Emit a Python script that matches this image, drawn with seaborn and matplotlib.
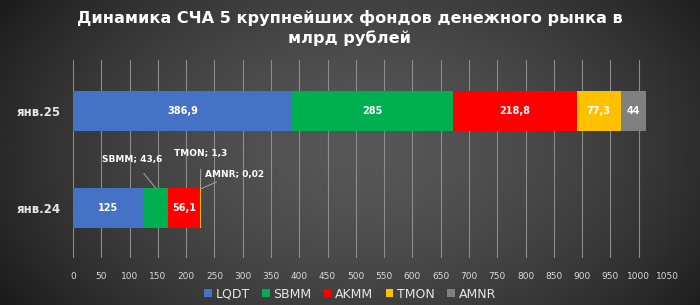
import numpy as np
import pandas as pd
import matplotlib
matplotlib.use("Agg")
import matplotlib.pyplot as plt
import seaborn as sns
from matplotlib.patches import Patch

# ---- data ----
periods = ["янв.25", "янв.24"]
funds = ["LQDT", "SBMM", "AKMM", "TMON", "AMNR"]
lqdt = [386.9, 125.0]
sbmm = [285.0, 43.6]
akmm = [218.8, 56.1]
tmon = [77.3, 1.3]
amnr = [44.0, 0.02]
value_labels = [["386,9", "285", "218,8", "77,3", "44"],
                ["125", None, "56,1", None, None]]
callouts = ["SBMM; 43,6", "TMON; 1,3", "AMNR; 0,02"]
x_ticks = list(range(0, 1051, 50))

colors = ["#4472C4", "#00B050", "#FF0000", "#FFC000", "#808080"]
title = "Динамика СЧА 5 крупнейших фондов денежного рынка в\nмлрд рублей"

sns.set_theme(style="white")
plt.rcParams["font.family"] = ["DejaVu Sans"]

fig = plt.figure(figsize=(7.0, 3.05), dpi=100)

# background radial gradient
bg = fig.add_axes([0, 0, 1, 1], zorder=-10)
yy, xx = np.mgrid[0:305, 0:700]
r = np.sqrt(((xx - 360) / 400.0) ** 2 + ((yy - 150) / 260.0) ** 2)
val = 0.34 - 0.21 * np.clip(r, 0, 1.2) ** 1.6
bg.imshow(np.dstack([val, val, val]), aspect="auto", extent=[0, 1, 0, 1], origin="upper")
bg.axis("off")

W, H = 700.0, 305.0
ax = fig.add_axes([73 / W, 1 - 258 / H, (667 - 73) / W, (258 - 60) / H])
ax.patch.set_alpha(0)

series = [lqdt, sbmm, akmm, tmon, amnr]
cum = np.cumsum(np.array(series), axis=0)
for i in range(len(funds) - 1, -1, -1):
    d = pd.DataFrame({"period": periods, "total": cum[i]})
    sns.barplot(data=d, x="total", y="period", order=periods, color=colors[i],
                width=0.41, saturation=1, ax=ax, orient="h", zorder=3,
                edgecolor="none", linewidth=0)

ax.set_xlim(0, 1050)
ax.set_ylim(1.515, -0.526)
ax.set_xticks(x_ticks)
ax.set_xticklabels([str(t) for t in x_ticks], fontsize=6.5, color="#d9d9d9")
ax.tick_params(axis="x", length=0, pad=10)
ax.set_yticks([0, 1])
ax.set_yticklabels(periods, fontsize=8.5, fontweight="bold", color="#e6e6e6")
ax.tick_params(axis="y", length=0, pad=8.5)
ax.set_xlabel("")
ax.set_ylabel("")
for s in ax.spines.values():
    s.set_visible(False)
for t in x_ticks:
    ax.axvline(t, color="#8c8c8c", lw=0.8, zorder=1)

# value labels
for p in range(len(periods)):
    start = 0.0
    for i in range(len(funds)):
        v = series[i][p]
        lab = value_labels[p][i]
        if lab:
            ax.text(start + v / 2, p, lab, ha="center", va="center", color="white",
                    fontsize=7, fontweight="bold", zorder=5)
        start += v

# callouts for small segments of янв.24
c0 = lqdt[1] + sbmm[1] / 2
c1 = cum[3][1] - tmon[1] / 2
c2 = cum[4][1]
lp = dict(arrowstyle="-", color="#a6a6a6", lw=0.7, shrinkB=0)
ax.annotate(callouts[0], xy=(c0, 0.8), xytext=(105, 0.495), ha="center", va="center",
            color="white", fontsize=6.5, fontweight="bold",
            arrowprops=dict(lp, shrinkA=6))
ax.annotate(callouts[1], xy=(c1, 0.8), xytext=(226, 0.433), ha="center", va="center",
            color="white", fontsize=6.5, fontweight="bold",
            arrowprops=dict(lp, shrinkA=6))
ax.annotate(callouts[2], xy=(c2 + 1, 0.8), xytext=(285, 0.65), ha="center", va="center",
            color="white", fontsize=6.5, fontweight="bold",
            arrowprops=dict(lp, shrinkA=22))

# title
fig.text(0.5, 1 - 28 / H, title, ha="center", va="center", color="white",
         fontsize=11.6, fontweight="bold", linespacing=1.4)

# legend
handles = [Patch(facecolor=c, edgecolor="none") for c in colors]
fig.legend(handles, funds, loc="center", bbox_to_anchor=(0.5, 1 - 294 / H), ncol=5,
           frameon=False, fontsize=9, labelcolor="#e6e6e6", handlelength=0.6,
           handleheight=0.6, handletextpad=0.3, columnspacing=1.0)

fig.savefig("out.png", dpi=100)
